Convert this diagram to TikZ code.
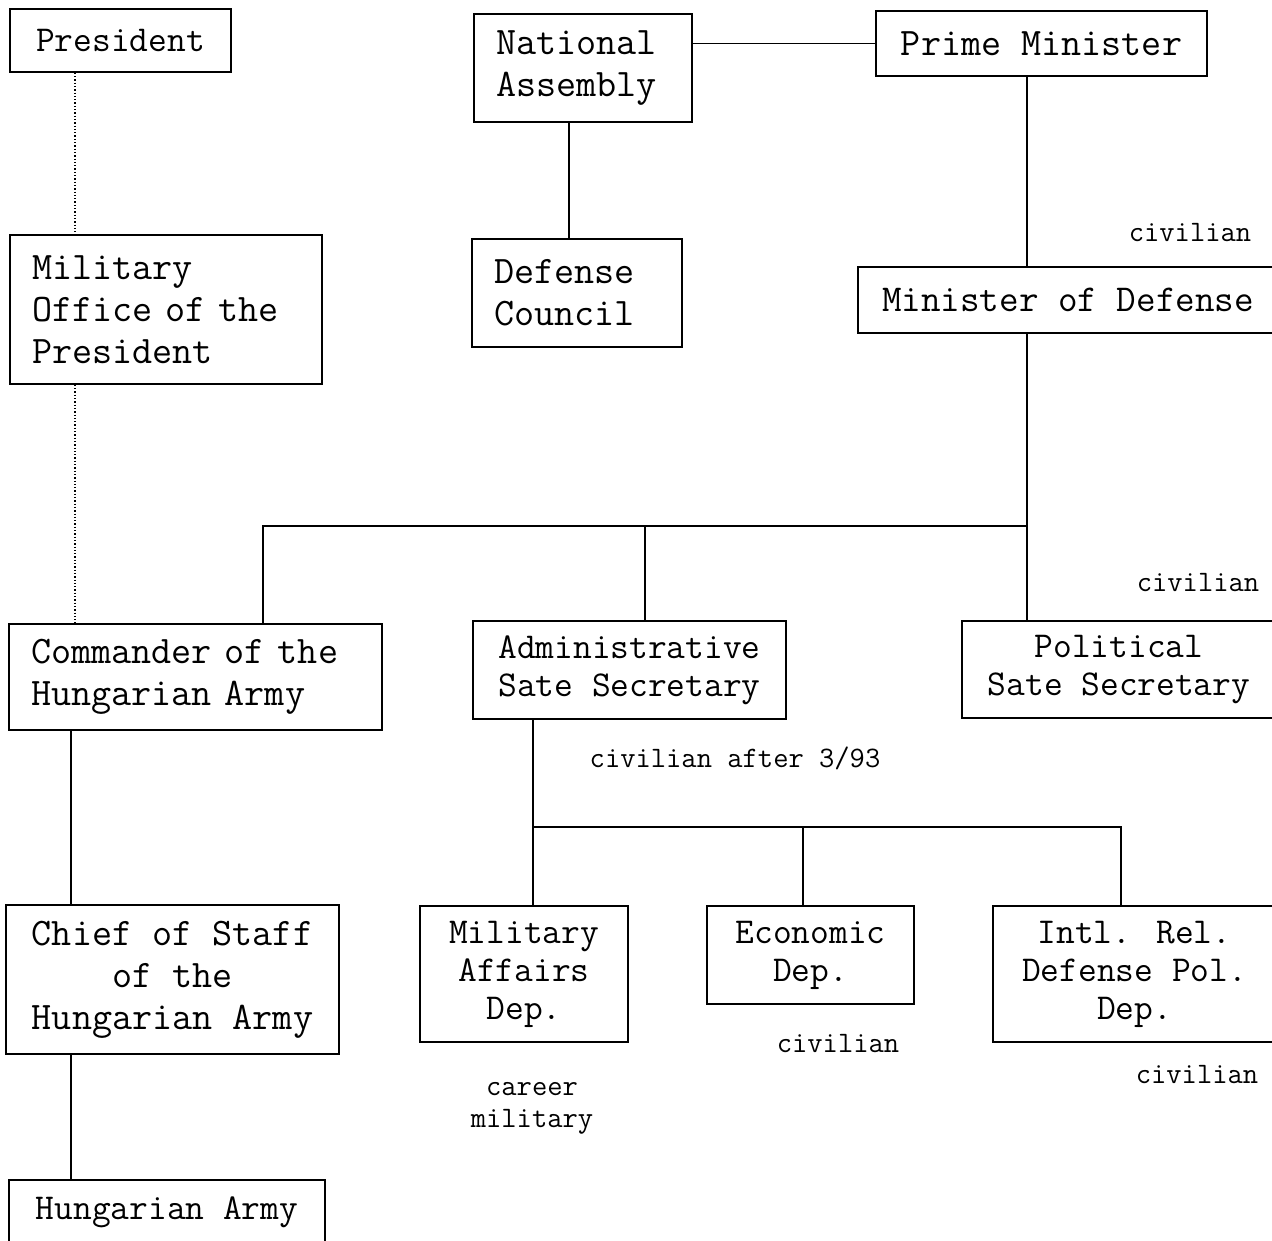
\documentclass[tikz,border=0pt]{standalone}
\usepackage{fontspec}
\newcommand\bigtxt{\ttfamily\fontsize{39}{42}\selectfont}
\newcommand\midtxt{\ttfamily\fontsize{36.4}{38}\selectfont}
\newcommand\smalltxt{\ttfamily\fontsize{29.7}{32}\selectfont}
\begin{document}
\begin{tikzpicture}[x=1pt,y=-1pt,
		line width=1.6pt,
		box/.style = {draw, inner ysep=0pt, inner xsep=22pt, font=\bigtxt, align=left},
		midbox/.style = {draw, inner sep=0pt, font=\midtxt, align=center},
		note/.style = {inner sep=0pt, font=\smalltxt, align=center}]

	\useasboundingbox (0,0) rectangle (1272,1241);

	% top row
	\node[midbox,minimum width=221,minimum height=63] (pres) at (120.5,40.5) {President};
	\node[box,text width=174,minimum height=108] (na) at (583,68) {National\\Assembly};
	\node[midbox,font=\bigtxt,minimum width=331,minimum height=65] (pm) at (1041.5,43.5) {Prime Minister};

	\node[box,text width=268,minimum height=149] (mop) at (166,309.5) {Military\\Office of the\\President};
	\node[box,text width=166,minimum height=108] (dc) at (577,293) {Defense\\Council};
	\node[midbox,font=\ttfamily\fontsize{38}{40}\selectfont,minimum width=420,minimum height=66] (mod) at (1068,300) {Minister of Defense};

	% state secretaries
	\node[box,text width=329,minimum height=106] (cmd) at (195.5,677) {Commander of the\\Hungarian Army};
	\node[midbox,minimum width=313,minimum height=98] (adm) at (629.5,670) {Administrative\\Sate Secretary};
	\node[midbox,minimum width=314,minimum height=97] (pss) at (1119,669.5) {Political\\Sate Secretary};

	% departments
	\node[midbox,font=\ttfamily\fontsize{39}{42}\selectfont,minimum width=333,minimum height=149] (cos) at (172.5,979.5) {Chief of Staff\\of the\\Hungarian Army};
	\node[midbox,minimum width=316,minimum height=64] (army) at (167,1212) {Hungarian Army};
	\node[midbox,minimum width=208,minimum height=136] (maf) at (524,974) {Military\\Affairs\\Dep.};
	\node[midbox,minimum width=207,minimum height=98] (eco) at (810.5,955) {Economic\\Dep.};
	\node[midbox,minimum width=283,minimum height=136] (irp) at (1134.5,974) {Intl. Rel.\\Defense Pol.\\Dep.};

	% notes
	\node[note] (civmod) at (1190,233) {civilian};
	\node[note] (civpss) at (1198,583) {civilian};
	\node[note] (civadm) at (735,758) {civilian after 3/93};
	\node[note] (civeco) at (838,1044) {civilian};
	\node[note] (civirp) at (1197,1075) {civilian};
	\node[note] (carmaf) at (532,1108) {career\\military};

	% junctions
	\coordinate (dotx) at (75,0);
	\coordinate (lx) at (71,0);
	\coordinate (spine) at (1027,526);
	\coordinate (jcmd) at (263,526);
	\coordinate (jadm) at (645,526);
	\coordinate (sub) at (533,827);
	\coordinate (jeco) at (803,827);
	\coordinate (jirp) at (1121,827);

	\draw[dotted,line width=1.3pt] (pres.south -| dotx) -- (mop.north -| dotx);
	\draw[dotted,line width=1.3pt] (mop.south -| dotx) -- (cmd.north -| dotx);

	\draw (na.east |- pm) -- (pm.west);
	\draw (na.south -| 569,0) -- (dc.north -| 569,0);
	\draw (pm.south -| spine) -- (mod.north -| spine);
	\draw (mod.south -| spine) -- (pss.north -| spine);
	\draw (jcmd |- cmd.north) |- (spine);
	\draw (jadm) -- (jadm |- adm.north);

	\draw (cmd.south -| lx) -- (cos.north -| lx);
	\draw (cos.south -| lx) -- (army.north -| lx);

	\draw (adm.south -| sub) -- (maf.north -| sub);
	\draw (sub) -- (jirp) -- (jirp |- irp.north);
	\draw (jeco) -- (jeco |- eco.north);

\end{tikzpicture}
\end{document}
